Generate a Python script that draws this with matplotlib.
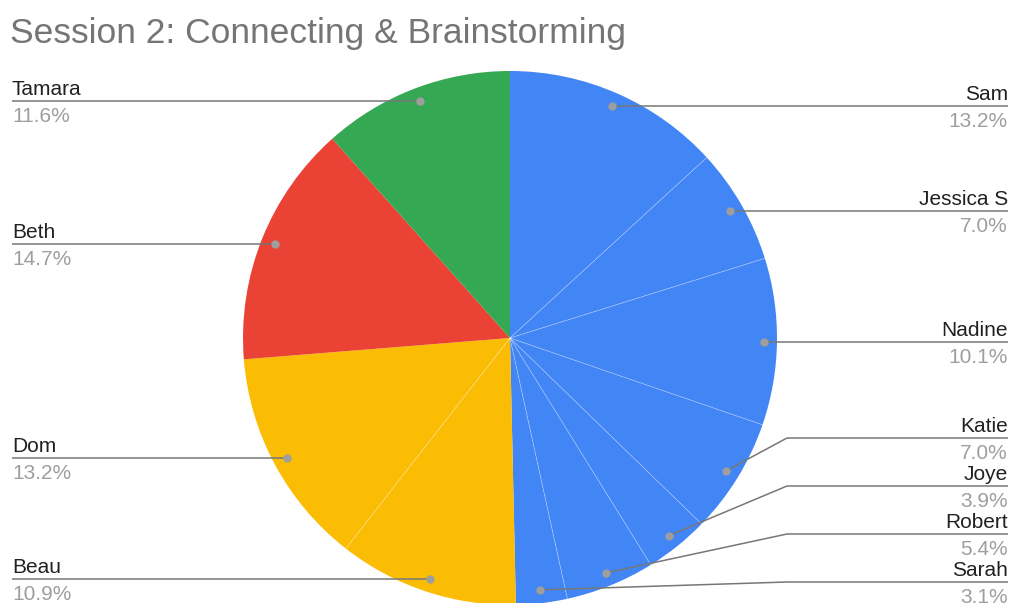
import matplotlib
matplotlib.use("Agg")
import matplotlib.pyplot as plt
import numpy as np

plt.rcParams["font.family"] = ["Liberation Sans", "DejaVu Sans"]

# attendance share per person, clockwise from 12 o'clock
names = ["Sam", "Jessica S", "Nadine", "Katie", "Joye", "Robert", "Sarah",
         "Beau", "Dom", "Beth", "Tamara"]
shares = [13.2, 7.0, 10.1, 7.0, 3.9, 5.4, 3.1, 10.9, 13.2, 14.7, 11.6]
groups = ["blue"] * 7 + ["yellow"] * 2 + ["red", "green"]

palette = {"blue": "#4285F4", "yellow": "#FBBC04", "red": "#EA4335", "green": "#34A853"}
title = "Session 2: Connecting & Brainstorming"

W, H = 1011, 603
cx, cy, R = 510, 338, 267

fig = plt.figure(figsize=(W / 100, H / 100), dpi=100)
ax = fig.add_axes([0, 0, 1, 1])

# y axis runs downward, so counterclockwise in data = clockwise on screen
wedges, _ = ax.pie(shares, colors=[palette[g] for g in groups], center=(cx, cy),
                   radius=R, startangle=270, counterclock=True,
                   wedgeprops=dict(edgecolor="none", linewidth=0))
ax.set_xlim(0, W)
ax.set_ylim(H, 0)
ax.set_aspect("equal")
ax.axis("off")

total = sum(shares)
starts = np.cumsum([0] + shares[:-1]) / total

# faint seams only where two neighbouring slices share a colour
for i in range(1, len(shares)):
    if groups[i] == groups[i - 1]:
        a = starts[i] * 2 * np.pi
        ax.plot([cx, cx + R * np.sin(a)], [cy, cy - R * np.cos(a)],
                color="white", alpha=0.35, lw=0.6, zorder=2)

ax.text(10, 43, title, fontsize=25.5, color="#757575", ha="left", va="baseline")

# label anchors: mid-angle of each slice, a little inside the rim
ang = (starts + np.array(shares) / total / 2) * 2 * np.pi
dot_x = cx + 0.95 * R * np.sin(ang)
dot_y = cy - 0.95 * R * np.cos(ang)
right = np.sin(ang) > 0

gap, y_max = 48, 582
label_y = dot_y.copy()
for side in (right, ~right):
    idx = [i for i in np.argsort(dot_y) if side[i]]
    limit = y_max
    for i in reversed(idx):
        label_y[i] = min(label_y[i], limit)
        limit = label_y[i] - gap

line_c, dot_c = "#777777", "#9e9e9e"
for i, name in enumerate(names):
    ly = label_y[i]
    if right[i]:
        ex, tx, ha = cx + R + 10, 1008, "right"
    else:
        ex, tx, ha = cx - R - 10, 12, "left"
    if abs(ly - dot_y[i]) > 0.5:
        xs, ys = [dot_x[i], ex, tx], [dot_y[i], ly, ly]
    else:
        xs, ys = [dot_x[i], tx], [ly, ly]
    ax.plot(xs, ys, color=line_c, lw=1.1, solid_capstyle="butt", zorder=3)
    ax.plot(dot_x[i], dot_y[i], "o", color=dot_c, ms=6, mec="none", zorder=4)
    ax.text(tx, ly - 6, name, fontsize=15, color="#212121", ha=ha, va="baseline")
    ax.text(tx, ly + 21, f"{shares[i]:.1f}%", fontsize=15, color="#9e9e9e",
            ha=ha, va="baseline")

fig.savefig("out.png", dpi=100)
